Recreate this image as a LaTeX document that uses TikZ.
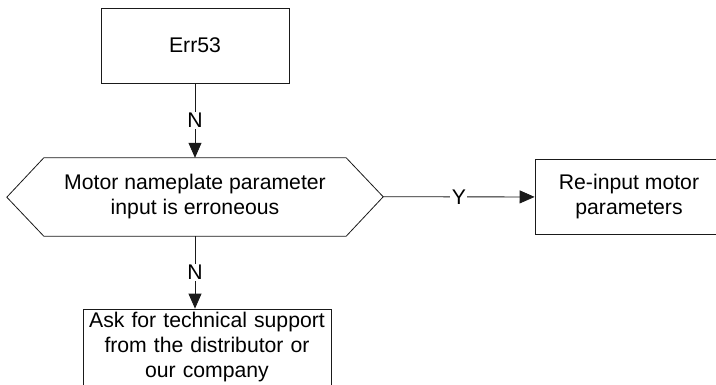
\documentclass[tikz,border=0pt]{standalone}
\usepackage{fontspec}
\setmainfont{Liberation Sans}
\usetikzlibrary{arrows.meta,calc,positioning}
\definecolor{FlowLine}{HTML}{1A1A1A}
\tikzset{
  flowbox/.style={draw=FlowLine,line width=0.8pt,rectangle,align=center,
    minimum width=188pt,minimum height=75pt,inner sep=2pt,
    font=\fontsize{21.2}{25}\selectfont},
  flowarrow/.style={draw=FlowLine,line width=0.8pt,
    -{Triangle[length=15pt,width=13pt]}},
  flowlabel/.style={fill=white,inner sep=1.5pt,font=\fontsize{21.2}{24}\selectfont}
}
\begin{document}
\begin{tikzpicture}[x=1pt,y=1pt]
  \useasboundingbox (0,0) rectangle (716,384);
  \clip (0,0) rectangle (716,384);
  % boxes
  \node[flowbox] (err53) at (195,338.5) {Err53};
  \node[align=center,minimum width=302pt,minimum height=78pt,inner sep=0pt,
    font=\fontsize{21.2}{25}\selectfont]
    (check) at (195,187) {Motor nameplate parameter\\input is erroneous};
  \draw[FlowLine,line width=0.8pt] (check.north west) -- (check.north east)
    -- ++(37,-39) coordinate (checkR) -- (check.south east)
    -- (check.south west) -- ++(-37,39) -- cycle;
  \node[flowbox] (reinput) at (629,187) {Re-input motor\\parameters};
  \node[flowbox,minimum width=248pt,minimum height=77pt,text width=242pt]
    (support) at (207,36.5)
    {Ask for technical support\\from the distributor or\\our company};
  % connectors
  \draw[flowarrow] (err53) -- node[flowlabel] {N} (check);
  \draw[flowarrow] (checkR) -- node[flowlabel] {Y} (reinput);
  \draw[flowarrow] (check.south) -- node[flowlabel] {N}
    (check.south |- support.north);
\end{tikzpicture}
\end{document}
